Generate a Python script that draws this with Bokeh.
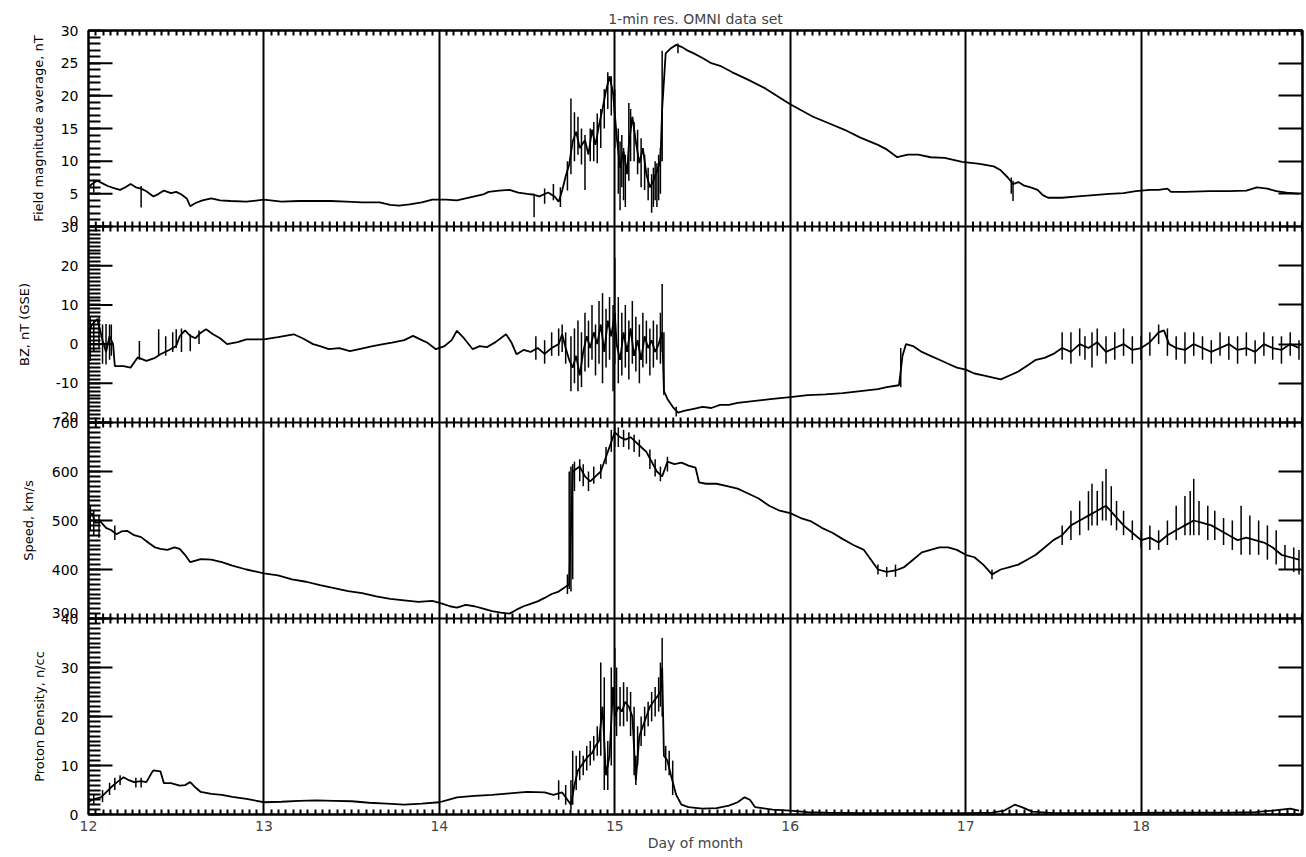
from bokeh.plotting import figure
from bokeh.layouts import row
from bokeh.models import FixedTicker, LinearAxis, Range1d, Span
from bokeh.core.properties import value
from bokeh.embed import file_html
from bokeh.resources import INLINE

# ---------------- data ----------------
TITLE = "1-min res. OMNI data set"
XLABEL = "Day of month"
days = [12, 13, 14, 15, 16, 17, 18]

# Panel 1: field magnitude average, nT
b_t = [12.00, 12.02, 12.05, 12.08, 12.11, 12.14, 12.18, 12.21, 12.24, 12.27, 12.30, 12.33, 12.37, 12.40, 12.43,
       12.47, 12.50, 12.53, 12.56, 12.58, 12.61, 12.65, 12.70, 12.75, 12.81, 12.90, 13.00, 13.10, 13.20, 13.28,
       13.38, 13.47, 13.56, 13.66, 13.72, 13.77, 13.83, 13.90, 13.96, 14.04, 14.10, 14.15, 14.20, 14.25, 14.28,
       14.34, 14.40, 14.45, 14.50, 14.53, 14.57, 14.62, 14.66, 14.68, 14.70, 14.72, 14.74, 14.76, 14.78, 14.80,
       14.83, 14.85, 14.87, 14.89, 14.91, 14.93, 14.95, 14.97, 14.99, 15.01, 15.03, 15.05, 15.07, 15.08, 15.10,
       15.12, 15.14, 15.16, 15.18, 15.20, 15.22, 15.24, 15.26, 15.27, 15.29, 15.32, 15.35, 15.38, 15.41, 15.45,
       15.50, 15.55, 15.60, 15.67, 15.75, 15.86, 16.00, 16.13, 16.22, 16.31, 16.40, 16.50, 16.55, 16.61, 16.67,
       16.73, 16.80, 16.88, 16.98, 17.08, 17.16, 17.20, 17.24, 17.27, 17.30, 17.33, 17.37, 17.41, 17.44, 17.47,
       17.55, 17.64, 17.73, 17.82, 17.90, 17.97, 18.05, 18.10, 18.15, 18.17, 18.25, 18.39, 18.50, 18.60, 18.66,
       18.72, 18.77, 18.83, 18.90]
b_v = [6.0, 6.5, 7.0, 6.6, 6.2, 5.9, 5.6, 6.0, 6.5, 6.0, 5.8, 5.4, 4.6, 5.0, 5.5,
       5.1, 5.3, 4.9, 4.3, 3.1, 3.6, 4.0, 4.3, 4.0, 3.9, 3.8, 4.1, 3.8, 3.9, 3.9,
       3.9, 3.8, 3.7, 3.7, 3.3, 3.2, 3.4, 3.7, 4.1, 4.1, 4.0, 4.3, 4.6, 4.9, 5.3,
       5.5, 5.6, 5.2, 5.0, 4.9, 4.6, 5.2, 4.5, 3.8, 5.5, 7.7, 9.5, 13.0, 14.5, 12.0,
       13.2, 11.0, 14.8, 12.5, 15.5, 18.0, 20.8, 23.0, 20.5, 14.0, 9.0, 11.5, 8.0, 12.5, 16.8,
       13.0, 9.7, 12.0, 8.0, 6.0, 7.0, 8.5, 10.0, 18.0, 26.5, 27.3, 27.8, 27.5, 27.0, 26.5,
       25.8, 25.0, 24.6, 23.6, 22.6, 21.1, 18.7, 16.8, 15.8, 14.8, 13.6, 12.5, 11.8, 10.6, 11.0,
       11.0, 10.6, 10.5, 9.9, 9.6, 9.2, 8.6, 7.5, 6.5, 6.8, 6.3, 6.0, 5.6, 4.8, 4.4,
       4.4, 4.6, 4.8, 5.0, 5.1, 5.4, 5.6, 5.6, 5.8, 5.3, 5.3, 5.4, 5.4, 5.5, 6.0,
       5.8, 5.4, 5.2, 5.0]
b_spk_t = [12.03, 12.30, 14.54, 14.60, 14.65, 14.69, 14.73, 14.75, 14.77, 14.79, 14.81, 14.83, 14.86, 14.88,
           14.90, 14.92, 14.94, 14.96, 14.98, 15.00, 15.02, 15.03, 15.04, 15.05, 15.06, 15.08, 15.09, 15.11,
           15.13, 15.15, 15.17, 15.19, 15.21, 15.22, 15.23, 15.24, 15.25, 15.26, 15.27, 15.36, 17.26, 17.27]
b_spk_lo = [5.2, 2.9, 1.4, 3.5, 4.0, 3.0, 5.5, 8.0, 10.0, 11.0, 9.5, 5.6, 10.0, 10.0,
            9.7, 12.0, 15.0, 18.0, 17.0, 12.0, 5.0, 2.5, 6.0, 4.0, 3.0, 7.0, 10.0, 10.0,
            8.0, 6.0, 5.6, 4.0, 2.1, 3.0, 4.0, 3.0, 4.0, 5.0, 10.0, 26.5, 5.0, 3.9]
b_spk_hi = [7.2, 6.2, 5.0, 5.8, 6.5, 6.0, 10.0, 19.6, 17.5, 16.8, 15.0, 14.0, 15.0, 16.0,
            17.3, 18.0, 21.0, 23.6, 23.0, 21.0, 15.0, 13.0, 14.0, 12.0, 11.0, 18.9, 18.0, 16.0,
            14.8, 13.5, 11.0, 9.0, 8.0, 9.0, 10.0, 9.7, 11.0, 12.0, 26.9, 28.0, 7.5, 7.0]

# Panel 2: BZ, nT (GSE)
bz_t = [12.00, 12.02, 12.05, 12.08, 12.10, 12.12, 12.14, 12.15, 12.20, 12.24, 12.28, 12.33, 12.38, 12.41, 12.46,
        12.50, 12.52, 12.55, 12.58, 12.61, 12.64, 12.67, 12.71, 12.75, 12.79, 12.85, 12.90, 13.00, 13.08, 13.17,
        13.22, 13.28, 13.32, 13.37, 13.43, 13.49, 13.55, 13.62, 13.68, 13.73, 13.80, 13.85, 13.90, 13.93, 13.98,
        14.03, 14.07, 14.10, 14.14, 14.19, 14.23, 14.27, 14.32, 14.38, 14.41, 14.44, 14.48, 14.52, 14.56, 14.60,
        14.64, 14.68, 14.70, 14.72, 14.74, 14.76, 14.78, 14.80, 14.82, 14.84, 14.86, 14.88, 14.90, 14.92, 14.94,
        14.96, 14.98, 15.00, 15.01, 15.03, 15.05, 15.07, 15.09, 15.11, 15.13, 15.15, 15.17, 15.19, 15.21, 15.23,
        15.25, 15.27, 15.28, 15.30, 15.33, 15.36, 15.40, 15.45, 15.50, 15.55, 15.60, 15.65, 15.70, 15.80, 15.90,
        16.00, 16.10, 16.20, 16.30, 16.40, 16.50, 16.55, 16.62, 16.64, 16.66, 16.70, 16.75, 16.80, 16.85, 16.90,
        16.95, 17.00, 17.05, 17.10, 17.15, 17.20, 17.25, 17.30, 17.35, 17.40, 17.45, 17.50, 17.55, 17.60, 17.65,
        17.70, 17.75, 17.80, 17.85, 17.90, 17.95, 18.00, 18.05, 18.10, 18.13, 18.16, 18.20, 18.25, 18.30, 18.35,
        18.40, 18.45, 18.50, 18.55, 18.60, 18.65, 18.70, 18.75, 18.80, 18.85, 18.90]
bz_v = [3, 5, 6.4, 1, -2, 2, 0, -5.6, -5.6, -6, -3.4, -4.3, -3.5, -2.6, -1.5,
        -0.5, 2.0, 3.5, 2.1, 1.5, 2.9, 3.8, 2.5, 1.5, 0, 0.5, 1.2, 1.2, 1.8, 2.5,
        1.5, 0, -0.5, -1.3, -1.0, -1.8, -1.2, -0.5, 0, 0.4, 1.0, 2.1, 1.0, 0.4, -1.3,
        -0.5, 1.0, 3.4, 1.5, -1.3, -0.5, -0.8, 0.5, 2.5, 0.5, -2.6, -1.5, -2.0, -1.0, -2.5,
        -1.0, 0, 2.5, -1.0, -4.0, -6, -3, -8, -2, 2, -1, 3, 0, 5, -2,
        6, 2, 8, 0, -4, 3, -2, 4, -3, 1, -4, 2, -1, 1, -2,
        0, 3, -12, -14, -16, -17.5, -17, -16.5, -16, -16.3, -15.5, -15.5, -15, -14.5, -14,
        -13.5, -13, -12.8, -12.5, -12, -11.5, -11, -10.5, -3, 0, -0.5, -2, -3, -4, -5,
        -6, -6.5, -7.5, -8, -8.5, -9, -8, -7, -5.5, -4, -3.5, -2.5, -1, -2, 0,
        -1, 0.5, -2, -1, 0, -1.5, -1, 0.5, 3, 3.5, 0, -1, -1.5, 0, -1,
        -2, -1, 0, -1.5, -1, -2, 0, -1, -1.5, 0, -1]
bz_spk_t = [12.01, 12.03, 12.06, 12.08, 12.10, 12.12, 12.13, 12.29, 12.40, 12.44, 12.48, 12.50, 12.53, 12.58, 12.63,
            14.55, 14.60, 14.64, 14.68, 14.70, 14.72,
            14.75, 14.77, 14.79, 14.81, 14.83, 14.85, 14.87, 14.89, 14.91, 14.93, 14.95, 14.97, 14.99, 15.00,
            15.02, 15.04, 15.06, 15.08, 15.10, 15.12, 15.14, 15.16, 15.18, 15.20, 15.22, 15.24, 15.26, 15.27, 15.28,
            15.35, 16.63, 17.55, 17.60, 17.65, 17.68, 17.72, 17.75, 17.80, 17.85, 17.90, 17.95, 18.00, 18.05,
            18.10, 18.15, 18.20, 18.25, 18.30, 18.35, 18.40, 18.45, 18.50, 18.55, 18.60, 18.65, 18.70, 18.75,
            18.80, 18.85, 18.90]
bz_spk_lo = [-4.3, -2, -1, -5, -5.2, -4, -3, -4, -3, -3, -2, -1, -2, -1.8, 0,
             -4, -5, -3, -3, -2, -5,
             -12, -10, -12, -11, -7, -6, -4, -8, -5, -10, -6, -4, -12, -5,
             -10, -8, -6, -9, -5, -7, -10, -6, -5, -8, -6, -4, -5, -2, -13,
             -18.5, -11, -4, -5, -3, -4, -6, -3, -5, -4, -3, -5, -4, -3,
             0, -3, -4, -5, -3, -4, -5, -3, -4, -5, -3, -5, -3, -4,
             -5, -3, -4]
bz_spk_hi = [6.9, 6, 7, 5, 5.1, 5, 5, 0.8, 3.8, 2, 3, 3.8, 4, 2.5, 3.5,
             2, 1, 3, 4, 5, 3,
             2, 4, 6, 3, 8, 6, 10, 5, 11, 13, 9, 12, 10, 22,
             12, 8, 10, 6, 11, 7, 5, 8, 6, 4, 6, 5, 8, 15.3, 3,
             -16, -1, 3, 3, 4, 2, 3, 4, 2, 3, 4, 2, 2, 3,
             5, 4, 2, 3, 3, 2, 1, 3, 2, 2, 3, 1, 3, 2,
             2, 3, 1]

# Panel 3: speed, km/s
v_t = [12.00, 12.02, 12.04, 12.07, 12.10, 12.13, 12.16, 12.19, 12.22, 12.26, 12.30, 12.34, 12.38, 12.41, 12.45,
       12.49, 12.52, 12.55, 12.58, 12.61, 12.64, 12.70, 12.76, 12.82, 12.90, 13.00, 13.08, 13.16, 13.24, 13.32,
       13.40, 13.48, 13.56, 13.64, 13.72, 13.80, 13.88, 13.96, 14.02, 14.06, 14.10, 14.15, 14.20, 14.25, 14.30,
       14.35, 14.40, 14.44, 14.48, 14.52, 14.56, 14.60, 14.64, 14.68, 14.72, 14.74, 14.76, 14.78, 14.80, 14.83,
       14.86, 14.89, 14.92, 14.95, 14.98, 15.00, 15.03, 15.06, 15.09, 15.12, 15.15, 15.18, 15.21, 15.24, 15.27,
       15.30, 15.34, 15.38, 15.42, 15.46, 15.48, 15.52, 15.58, 15.64, 15.70, 15.76, 15.82, 15.88, 15.94, 16.00,
       16.06, 16.12, 16.18, 16.24, 16.30, 16.36, 16.42, 16.46, 16.50, 16.55, 16.60, 16.65, 16.70, 16.75, 16.80,
       16.85, 16.90, 16.95, 17.00, 17.05, 17.10, 17.15, 17.20, 17.25, 17.30, 17.35, 17.40, 17.45, 17.50, 17.55,
       17.60, 17.65, 17.70, 17.75, 17.80, 17.85, 17.90, 17.95, 18.00, 18.05, 18.10, 18.15, 18.20, 18.25, 18.30,
       18.35, 18.40, 18.45, 18.50, 18.55, 18.60, 18.65, 18.70, 18.75, 18.80, 18.85, 18.90]
v_v = [505, 515, 495, 497, 485, 480, 472, 478, 479, 470, 466, 455, 445, 442, 440,
       445, 442, 430, 415, 418, 421, 420, 415, 408, 400, 392, 388, 380, 375, 368,
       362, 356, 352, 345, 340, 337, 334, 336, 330, 325, 322, 328, 325, 320, 315,
       312, 310, 318, 325, 330, 335, 342, 350, 355, 365, 370, 600, 605, 610, 590,
       580, 590, 600, 630, 660, 680, 670, 665, 670, 660, 650, 640, 620, 600, 590,
       620, 615, 618, 612, 608, 578, 575, 575, 570, 565, 555, 545, 530, 520, 515,
       505, 498, 485, 475, 462, 450, 440, 420, 400, 395, 398, 405, 420, 435, 440,
       445, 445, 440, 430, 425, 410, 390, 400, 405, 410, 420, 430, 445, 460, 470,
       490, 500, 510, 520, 530, 510, 490, 475, 460, 465, 455, 470, 480, 490, 500,
       495, 490, 480, 470, 460, 465, 460, 455, 445, 430, 425, 420]
v_spk_t = [12.01, 12.03, 12.06, 12.15, 14.73, 14.74, 14.75, 14.76, 14.77, 14.80, 14.82, 14.85, 14.88, 14.92,
           14.95, 14.98, 15.00, 15.02, 15.05, 15.08, 15.11, 15.14, 15.20, 15.23, 15.26, 15.30, 16.50, 16.55,
           16.60, 17.15, 17.55, 17.60, 17.65, 17.70, 17.72, 17.75, 17.78, 17.80, 17.83, 17.86, 17.90, 17.95,
           18.00, 18.05, 18.10, 18.15, 18.20, 18.25, 18.28, 18.30, 18.33, 18.38, 18.42, 18.47, 18.52, 18.57,
           18.62, 18.67, 18.72, 18.77, 18.82, 18.87, 18.90]
v_spk_lo = [480, 470, 465, 460, 350, 360, 355, 380, 560, 580, 570, 560, 575, 585,
            615, 640, 650, 650, 650, 645, 640, 630, 605, 590, 580, 600, 390, 385,
            385, 380, 450, 460, 470, 480, 490, 490, 500, 500, 490, 480, 470, 460,
            445, 440, 440, 450, 460, 470, 470, 470, 470, 460, 460, 450, 440, 430,
            430, 430, 420, 410, 400, 395, 390]
v_spk_hi = [530, 520, 510, 490, 390, 600, 610, 615, 620, 625, 615, 600, 610, 615,
            650, 685, 698, 690, 685, 680, 675, 665, 645, 625, 610, 630, 410, 405,
            410, 400, 490, 520, 540, 560, 575, 560, 580, 605, 570, 540, 520, 500,
            480, 490, 480, 500, 530, 550, 560, 585, 540, 530, 520, 505, 500, 530,
            510, 500, 490, 480, 450, 445, 440]

# Panel 4: proton density, n/cc
n_t = [12.00, 12.02, 12.05, 12.07, 12.10, 12.13, 12.16, 12.20, 12.23, 12.26, 12.30, 12.33, 12.36, 12.37, 12.41,
       12.43, 12.47, 12.52, 12.55, 12.58, 12.61, 12.64, 12.70, 12.76, 12.82, 12.90, 13.00, 13.10, 13.20, 13.30,
       13.40, 13.50, 13.60, 13.70, 13.80, 13.90, 14.00, 14.05, 14.10, 14.20, 14.30, 14.40, 14.50, 14.60, 14.65,
       14.70, 14.73, 14.75, 14.77, 14.79, 14.81, 14.83, 14.85, 14.87, 14.89, 14.91, 14.93, 14.95, 14.97, 14.99,
       15.00, 15.02, 15.04, 15.06, 15.08, 15.10, 15.12, 15.14, 15.16, 15.18, 15.20, 15.22, 15.24, 15.26, 15.27,
       15.28, 15.30, 15.32, 15.35, 15.38, 15.42, 15.50, 15.58, 15.65, 15.70, 15.74, 15.77, 15.80, 15.90, 16.00,
       16.10, 16.20, 16.40, 16.60, 16.80, 17.00, 17.15, 17.22, 17.28, 17.32, 17.38, 17.50, 17.70, 17.90, 18.10,
       18.30, 18.50, 18.65, 18.75, 18.85, 18.90]
n_v = [2.5, 3.0, 3.3, 3.5, 4.5, 5.6, 6.5, 7.6, 7.0, 6.6, 6.8, 6.6, 8.5, 9.0, 8.8,
       6.4, 6.4, 5.9, 6.0, 6.6, 5.5, 4.6, 4.2, 4.0, 3.6, 3.2, 2.5, 2.6, 2.8, 2.9,
       2.8, 2.7, 2.4, 2.2, 2.0, 2.2, 2.5, 3.0, 3.5, 3.8, 4.0, 4.3, 4.6, 4.5, 4.0,
       4.5, 3.0, 2.0, 6, 9, 10, 11, 12, 12.5, 14, 15, 22, 8, 12, 26,
       20, 22, 21, 23, 22, 20, 7, 16, 18, 20, 22, 23, 24, 25, 30,
       12, 11, 8, 4, 2, 1.5, 1.2, 1.3, 1.8, 2.5, 3.5, 3.0, 1.5, 1.0, 0.8,
       0.5, 0.4, 0.3, 0.3, 0.3, 0.3, 0.4, 0.8, 2.0, 1.5, 0.6, 0.3, 0.3, 0.3, 0.4,
       0.4, 0.4, 0.5, 0.8, 1.2, 0.8]
n_spk_t = [12.03, 12.08, 12.12, 12.15, 12.18, 12.27, 12.30, 14.68, 14.72, 14.75, 14.76, 14.78, 14.80, 14.82,
           14.84, 14.86, 14.88, 14.90, 14.92, 14.94, 14.96, 14.98, 15.00, 15.01, 15.03, 15.05, 15.07, 15.09,
           15.11, 15.12, 15.13, 15.15, 15.17, 15.19, 15.21, 15.23, 15.25, 15.26, 15.27, 15.29, 15.31, 15.33]
n_spk_lo = [2, 2.5, 4, 5, 6, 5.5, 5.5, 3, 2, 1, 2, 5, 7, 8,
            9, 10, 11, 12, 12, 5, 5, 10, 18, 16, 18, 18, 19, 16,
            8, 6, 10, 14, 16, 18, 19, 20, 21, 22, 20, 9, 8, 4]
n_spk_hi = [4, 5, 6.5, 7.5, 8, 7.5, 7.5, 7, 6, 7, 13, 12, 13, 12,
            14, 15, 16, 18, 31, 28, 15, 30, 34, 30, 26, 27, 26, 25,
            22, 12, 18, 20, 22, 23, 25, 26, 28, 31, 36, 14, 13, 11]

# panel definitions: label, y-range, major tick values, minor step, series, label x
panels = [
    ("Field magnitude average, nT", 0, 30, [0, 5, 10, 15, 20, 25, 30], 1,
     (b_t, b_v, b_spk_t, b_spk_lo, b_spk_hi), 38),
    ("BZ, nT (GSE)", -20, 30, [-20, -10, 0, 10, 20, 30], 1,
     (bz_t, bz_v, bz_spk_t, bz_spk_lo, bz_spk_hi), 24),
    ("Speed, km/s", 300, 700, [300, 400, 500, 600, 700], 10,
     (v_t, v_v, v_spk_t, v_spk_lo, v_spk_hi), 28),
    ("Proton Density, n/cc", 0, 40, [0, 10, 20, 30, 40], 1,
     (n_t, n_v, n_spk_t, n_spk_lo, n_spk_hi), 39),
]

# ---------------- geometry ----------------
FONT = "DejaVu Sans"
FS = "14px"
X0, X1 = 12.0, 18.92
PH = 600                      # panel height in stacked units
NP = len(panels)
TOTAL_H = 856
TOP = 30
BOTTOM = 42
FRAME_H = TOTAL_H - TOP - BOTTOM   # 784
LEFT_W = 79                   # width of the label strip
PAD = 10                      # extra room above/below in the label strip (px)
U = NP * PH / FRAME_H         # stacked units per pixel
hours = [12 + i / 24 for i in range(0, 24 * 7 + 1) if i % 24 != 0]

# tick positions and labels in stacked units
major_pos, minor_pos = [], []
tl_y, tl_txt, tr_y, tr_txt = [], [], [], []
for k, (lab, lo, hi, majors, mstep, series, lx) in enumerate(panels):
    base = (NP - 1 - k) * PH
    scale = PH / (hi - lo)
    for mv in majors:
        pos = int(round(base + (mv - lo) * scale))
        major_pos.append(pos)
        if mv == lo and k < NP - 1:
            tr_y.append(pos)
            tr_txt.append(str(mv))
        else:
            tl_y.append(pos)
            tl_txt.append(str(mv))
    m = lo
    while m <= hi:
        minor_pos.append(int(round(base + (m - lo) * scale)))
        m += mstep

# ---------------- label strip (tick labels and axis titles) ----------------
lf = figure(width=LEFT_W, height=TOTAL_H, frame_align=False,
            x_range=Range1d(0, LEFT_W), y_range=Range1d(-PAD * U, NP * PH + PAD * U),
            output_backend="svg", toolbar_location=None,
            x_axis_location=None, y_axis_location=None,
            min_border_left=0, min_border_right=0,
            min_border_top=TOP - PAD, min_border_bottom=BOTTOM - PAD)
lf.grid.visible = False
lf.outline_line_color = None
lf.background_fill_color = "white"
lf.border_fill_color = "white"
lf.text(x=[LEFT_W - 1] * len(tl_y), y=tl_y, text=tl_txt, text_align="right", text_baseline="middle",
        text_font=value(FONT), text_font_size=value(FS), text_color="black")
lf.text(x=[LEFT_W - 1] * len(tr_y), y=tr_y, text=tr_txt, text_align="right", text_baseline="middle",
        y_offset=-6, text_font=value(FONT), text_font_size=value(FS), text_color="black")
lf.text(x=[pnl[6] for pnl in panels], y=[(NP - 1 - k) * PH + PH / 2 for k in range(NP)],
        text=[pnl[0] for pnl in panels], angle=90, angle_units="deg",
        text_align="center", text_baseline="middle",
        text_font=value(FONT), text_font_size=value("13px"), text_color="black")

# ---------------- main figure ----------------
p = figure(width=1225, height=TOTAL_H, frame_align=False,
           x_range=Range1d(X0, X1), y_range=Range1d(0, NP * PH),
           output_backend="svg", toolbar_location=None,
           min_border_left=9, min_border_right=2, min_border_top=TOP, min_border_bottom=BOTTOM,
           title=TITLE)
p.background_fill_color = "white"
p.border_fill_color = "white"
p.outline_line_color = "black"
p.outline_line_width = 2
p.title.align = "center"
p.title.text_font = FONT
p.title.text_font_size = FS
p.title.text_font_style = "normal"
p.title.standoff = 8

p.ygrid.visible = False
p.xgrid.grid_line_color = "black"
p.xgrid.grid_line_width = 2

xa = p.xaxis[0]
xa.ticker = FixedTicker(ticks=days, minor_ticks=hours)
xa.axis_label = XLABEL
xa.major_tick_in = 0
xa.major_tick_out = 0
xa.minor_tick_in = 5
xa.minor_tick_out = 0
xa.minor_tick_line_width = 2
xa.axis_line_width = 2
xa.major_label_text_font = FONT
xa.major_label_text_font_size = FS
xa.major_label_standoff = 6
xa.axis_label_text_font = FONT
xa.axis_label_text_font_size = FS
xa.axis_label_text_font_style = "normal"
xa.axis_label_standoff = 1

top = LinearAxis(ticker=FixedTicker(ticks=[], minor_ticks=hours))
top.minor_tick_in = 5
top.minor_tick_out = 0
top.minor_tick_line_width = 2
top.major_tick_in = 0
top.major_tick_out = 0
top.major_label_standoff = 0
top.axis_line_width = 2
p.add_layout(top, "above")

# left axis: short minor ticks (long major ticks are drawn as dash markers below)
ya = p.yaxis[0]
ya.ticker = FixedTicker(ticks=[], minor_ticks=minor_pos)
ya.major_tick_in = 0
ya.major_tick_out = 0
ya.minor_tick_in = 12
ya.minor_tick_out = 0
ya.minor_tick_line_width = 2
ya.axis_line_width = 2
ya.major_label_standoff = 0

# right axis: major ticks only, inward
ra = LinearAxis(ticker=FixedTicker(ticks=[], minor_ticks=major_pos))
ra.minor_tick_in = 24
ra.minor_tick_out = 0
ra.minor_tick_line_width = 2
ra.major_tick_in = 0
ra.major_tick_out = 0
ra.major_label_standoff = 0
ra.axis_line_width = 2
p.add_layout(ra, "right")

# long major ticks on the left edge (half of each dash is clipped by the frame)
p.scatter([X0] * len(major_pos), major_pos, marker="dash", size=48,
          line_color="black", line_width=2)

# panel boundaries with hourly ticks on both sides
bx, by = [], []
for k in range(1, NP):
    p.add_layout(Span(location=k * PH, dimension="width", line_color="black", line_width=2))
    bx.extend(hours)
    by.extend([k * PH] * len(hours))
p.scatter(bx, by, marker="dash", size=10, angle=90, angle_units="deg",
          line_color="black", line_width=2)

# data, each panel in its own sub-coordinate system
for k, (lab, lo, hi, majors, mstep, series, lx) in enumerate(panels):
    base = (NP - 1 - k) * PH
    t, v, st, slo, shi = series
    sub = p.subplot(x_source=Range1d(X0, X1), y_source=Range1d(lo, hi),
                    x_target=Range1d(X0, X1), y_target=Range1d(base, base + PH))
    sub.segment(x0=st, y0=slo, x1=st, y1=shi, line_color="black", line_width=1.5)
    sub.line(t, v, line_color="black", line_width=1.8)

layout = row(lf, p, spacing=0)
open("out.html", "w").write(file_html(layout, INLINE))
